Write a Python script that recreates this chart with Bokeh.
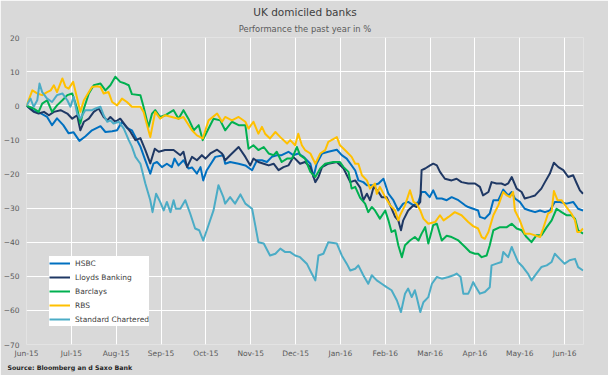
from bokeh.plotting import figure
from bokeh.models import Range1d, FixedTicker, Legend, LegendItem, Title
from bokeh.embed import file_html
from bokeh.resources import INLINE

# ---------------- data (x in months since Jun-15, y in % performance) ----------------
month_labels = ["Jun-15", "Jul-15", "Aug-15", "Sep-15", "Oct-15", "Nov-15", "Dec-15",
                "Jan-16", "Feb-16", "Mar-16", "Apr-16", "May-16", "Jun-16"]
y_ticks = [-70, -60, -50, -40, -30, -20, -10, 0, 10, 20]

hsbc_month = [
    0.00, 0.16, 0.31, 0.46, 0.57, 0.68, 0.82, 0.94, 1.05, 1.18,
    1.31, 1.46, 1.65, 1.76, 1.91, 2.02, 2.13, 2.24, 2.35, 2.54,
    2.65, 2.76, 2.83, 2.91, 3.02, 3.13, 3.24, 3.30, 3.39, 3.50,
    3.61, 3.69, 3.80, 3.88, 3.94, 4.02, 4.21, 4.39, 4.43, 4.54,
    4.73, 4.88, 5.03, 5.14, 5.25, 5.36, 5.47, 5.58, 5.69, 5.84,
    5.95, 6.06, 6.18, 6.33, 6.40, 6.47, 6.59, 6.73, 6.92, 7.03,
    7.14, 7.33, 7.40, 7.51, 7.59, 7.74, 7.85, 7.96, 8.07, 8.18,
    8.29, 8.40, 8.51, 8.63, 8.74, 8.81, 8.89, 8.99, 9.07, 9.15,
    9.26, 9.37, 9.48, 9.63, 9.78, 9.85, 9.96, 10.07, 10.11, 10.22,
    10.33, 10.41, 10.52, 10.63, 10.74, 10.82, 10.89, 11.00, 11.11, 11.22,
    11.34, 11.45, 11.56, 11.67, 11.78, 11.89, 12.04, 12.19, 12.30, 12.41,
]
hsbc_value = [
    0.0, -1.5, -2.2, -3.3, -5.7, -3.7, -5.7, -8.1, -7.8, -10.3,
    -9.0, -7.2, -6.0, -7.7, -7.5, -7.2, -4.7, -6.5, -7.2, -12.0,
    -16.0, -19.9, -17.0, -16.5, -18.0, -17.0, -18.0, -15.5, -17.5, -16.0,
    -18.4, -18.1, -19.9, -18.0, -21.9, -18.9, -15.0, -14.5, -17.0, -16.5,
    -17.0, -17.5, -18.9, -16.0, -16.0, -16.5, -15.0, -14.5, -14.5, -13.5,
    -14.5, -14.0, -15.0, -17.0, -20.9, -17.0, -14.0, -13.5, -12.9, -14.5,
    -15.5, -19.0, -21.9, -22.4, -23.3, -23.3, -22.8, -21.4, -25.8, -27.7,
    -30.7, -28.7, -28.2, -29.2, -28.2, -25.3, -25.3, -26.8, -24.8, -27.2,
    -27.2, -27.7, -26.8, -27.7, -29.2, -29.7, -30.2, -30.7, -32.6, -33.1,
    -31.6, -27.7, -27.7, -24.6, -26.3, -25.3, -27.2, -28.2, -30.2, -30.7,
    -31.2, -30.7, -31.2, -30.7, -28.2, -28.2, -28.7, -28.2, -30.2, -30.7,
]

lloyds_month = [
    0.00, 0.09, 0.16, 0.27, 0.39, 0.50, 0.61, 0.76, 0.91, 1.02,
    1.13, 1.20, 1.28, 1.39, 1.50, 1.61, 1.72, 1.80, 1.87, 1.98,
    2.09, 2.20, 2.32, 2.43, 2.54, 2.65, 2.76, 2.86, 2.95, 3.09,
    3.28, 3.43, 3.50, 3.58, 3.69, 3.80, 3.91, 3.99, 4.10, 4.25,
    4.36, 4.43, 4.54, 4.73, 4.88, 4.99, 5.06, 5.17, 5.29, 5.40,
    5.51, 5.62, 5.73, 5.84, 5.95, 6.10, 6.21, 6.33, 6.44, 6.51,
    6.59, 6.73, 6.92, 7.07, 7.22, 7.33, 7.44, 7.51, 7.59, 7.66,
    7.74, 7.85, 7.92, 8.03, 8.11, 8.22, 8.29, 8.35, 8.40, 8.51,
    8.63, 8.70, 8.78, 8.81, 8.89, 9.00, 9.07, 9.15, 9.22, 9.33,
    9.48, 9.59, 9.70, 9.85, 10.00, 10.11, 10.18, 10.30, 10.37, 10.48,
    10.59, 10.67, 10.74, 10.82, 10.93, 11.04, 11.11, 11.22, 11.34, 11.48,
    11.56, 11.67, 11.76, 11.86, 11.97, 12.08, 12.19, 12.27, 12.34, 12.41,
]
lloyds_value = [
    0.0, -1.0, -1.8, -2.3, -1.8, -2.8, -1.8, -1.3, -2.3, -3.8,
    -2.8, -7.2, -4.7, -3.8, -1.8, -0.8, -3.3, -4.3, -3.3, -4.7,
    -3.8, -5.7, -7.7, -10.1, -9.5, -13.0, -16.9, -12.6, -13.5, -13.0,
    -13.0, -14.5, -13.5, -18.0, -15.0, -16.0, -14.5, -15.5, -14.0, -12.9,
    -14.0, -16.0, -14.5, -12.1, -15.0, -17.5, -15.5, -16.5, -17.0, -17.5,
    -17.0, -18.9, -18.0, -17.5, -15.0, -17.0, -16.5, -18.0, -22.4, -20.9,
    -18.0, -17.0, -16.5, -18.4, -22.4, -21.9, -24.0, -27.7, -25.8, -27.7,
    -23.8, -25.3, -26.8, -26.8, -29.2, -32.6, -33.6, -36.5, -33.6, -30.7,
    -29.2, -29.7, -28.2, -18.9, -18.4, -17.5, -17.0, -17.5, -19.4, -21.4,
    -21.9, -21.4, -22.4, -22.8, -22.8, -23.8, -26.3, -25.3, -22.4, -22.8,
    -22.8, -23.3, -22.8, -20.9, -24.3, -25.3, -27.2, -26.8, -26.3, -24.3,
    -22.4, -19.9, -16.7, -18.0, -18.9, -20.9, -20.4, -22.8, -24.8, -25.8,
]

barclays_month = [
    0.00, 0.16, 0.27, 0.35, 0.46, 0.57, 0.68, 0.80, 0.91, 1.02,
    1.13, 1.20, 1.28, 1.39, 1.50, 1.65, 1.76, 1.87, 1.98, 2.09,
    2.20, 2.28, 2.35, 2.54, 2.61, 2.72, 2.80, 2.87, 2.98, 3.09,
    3.28, 3.39, 3.50, 3.61, 3.73, 3.84, 3.93, 4.02, 4.17, 4.32,
    4.43, 4.58, 4.73, 4.88, 4.95, 5.06, 5.17, 5.29, 5.40, 5.51,
    5.58, 5.69, 5.81, 5.92, 6.03, 6.10, 6.21, 6.33, 6.44, 6.55,
    6.66, 6.84, 6.99, 7.07, 7.18, 7.25, 7.33, 7.44, 7.55, 7.62,
    7.70, 7.77, 7.88, 8.00, 8.07, 8.14, 8.22, 8.29, 8.37, 8.44,
    8.55, 8.66, 8.74, 8.81, 8.89, 8.96, 9.07, 9.15, 9.26, 9.37,
    9.48, 9.63, 9.78, 9.89, 10.00, 10.07, 10.15, 10.26, 10.33, 10.41,
    10.56, 10.71, 10.82, 10.93, 11.04, 11.15, 11.26, 11.37, 11.48, 11.60,
    11.71, 11.82, 11.93, 12.04, 12.15, 12.23, 12.30, 12.41,
]
barclays_value = [
    0.0, -0.8, -1.8, 0.6, 1.6, -1.8, 0.1, 1.6, 3.1, 3.6,
    -0.8, -5.2, -0.8, 3.6, 6.0, 6.5, 4.5, 6.0, 8.5, 7.0,
    6.5, 6.0, 3.4, 3.1, -0.3, -6.2, -2.3, -1.3, -3.3, -2.8,
    -1.3, -3.8, -1.3, -3.8, -7.2, -5.7, -10.1, -7.7, -3.8, -4.3,
    -7.2, -4.7, -5.7, -5.7, -12.6, -11.6, -13.0, -12.1, -14.0, -14.5,
    -13.5, -16.5, -15.5, -15.5, -12.1, -14.5, -15.5, -19.4, -20.9, -18.4,
    -17.0, -16.5, -16.5, -18.0, -19.4, -24.3, -23.8, -27.0, -28.7, -31.2,
    -29.7, -30.7, -33.1, -30.7, -33.6, -37.0, -36.5, -40.9, -44.4, -40.9,
    -39.5, -38.5, -39.5, -37.5, -35.6, -40.4, -35.0, -34.6, -39.5, -38.1,
    -38.5, -39.5, -41.4, -42.9, -43.4, -43.4, -44.4, -43.9, -40.9, -36.5,
    -35.6, -35.6, -34.6, -36.0, -36.5, -38.5, -40.0, -38.0, -38.0, -35.6,
    -33.6, -30.2, -31.2, -32.1, -32.1, -33.1, -36.5, -37.5,
]

rbs_month = [
    0.00, 0.13, 0.24, 0.35, 0.46, 0.54, 0.61, 0.68, 0.80, 0.87,
    0.94, 1.04, 1.13, 1.20, 1.28, 1.39, 1.46, 1.57, 1.65, 1.72,
    1.83, 1.91, 2.02, 2.13, 2.24, 2.35, 2.43, 2.54, 2.61, 2.65,
    2.76, 2.87, 2.98, 3.09, 3.24, 3.39, 3.50, 3.69, 3.80, 3.93,
    4.06, 4.25, 4.36, 4.43, 4.58, 4.73, 4.88, 4.95, 5.06, 5.17,
    5.25, 5.32, 5.43, 5.55, 5.66, 5.81, 5.88, 5.99, 6.06, 6.14,
    6.21, 6.33, 6.44, 6.55, 6.66, 6.73, 6.92, 6.99, 7.10, 7.25,
    7.33, 7.40, 7.48, 7.59, 7.66, 7.77, 7.81, 7.88, 8.00, 8.11,
    8.22, 8.29, 8.33, 8.44, 8.55, 8.63, 8.70, 8.78, 8.85, 8.96,
    9.11, 9.22, 9.30, 9.41, 9.55, 9.70, 9.85, 9.96, 10.07, 10.15,
    10.22, 10.30, 10.41, 10.52, 10.63, 10.71, 10.78, 10.85, 10.89, 11.00,
    11.11, 11.22, 11.34, 11.45, 11.52, 11.63, 11.71, 11.76, 11.84, 11.93,
    12.04, 12.15, 12.23, 12.28, 12.34, 12.41,
]
rbs_value = [
    0.0, 4.5, 3.6, 3.1, 4.0, 4.5, 6.0, 4.0, 8.0, 5.5,
    5.0, 7.0, 2.1, -1.8, 1.6, 4.0, 5.5, 5.7, 5.5, 3.6,
    4.0, 1.1, 0.1, 2.1, 1.1, -0.3, -0.3, -0.3, -1.8, -3.8,
    -9.2, -1.8, -3.8, -2.8, -3.3, -3.8, -3.3, -7.2, -8.7, -9.6,
    -4.3, -2.3, -4.7, -3.3, -4.3, -3.3, -4.7, -6.7, -4.7, -8.2,
    -6.2, -8.2, -9.6, -7.7, -9.2, -11.1, -10.1, -11.6, -8.2, -11.6,
    -13.0, -14.0, -17.0, -14.0, -13.0, -10.6, -9.2, -11.6, -13.0, -15.0,
    -17.0, -17.0, -20.4, -21.9, -24.3, -22.8, -25.8, -23.8, -26.8, -29.2,
    -30.7, -33.6, -32.1, -29.2, -24.8, -28.2, -28.7, -30.7, -33.1, -34.6,
    -34.1, -32.1, -33.6, -32.6, -31.2, -32.1, -34.1, -35.3, -36.0, -38.5,
    -39.0, -37.0, -32.1, -29.2, -25.3, -26.3, -26.8, -25.3, -30.7, -33.6,
    -37.5, -37.5, -38.0, -38.5, -36.0, -31.6, -31.0, -25.0, -27.7, -27.7,
    -29.7, -31.6, -33.6, -37.0, -37.0, -36.0,
]

stanchart_month = [
    0.00, 0.09, 0.16, 0.24, 0.29, 0.35, 0.46, 0.57, 0.68, 0.80,
    0.91, 0.98, 1.05, 1.13, 1.20, 1.31, 1.46, 1.54, 1.65, 1.72,
    1.80, 1.87, 1.94, 2.06, 2.17, 2.28, 2.35, 2.43, 2.54, 2.65,
    2.76, 2.81, 2.89, 2.98, 3.06, 3.13, 3.21, 3.28, 3.33, 3.43,
    3.54, 3.65, 3.76, 3.85, 3.94, 4.02, 4.17, 4.28, 4.39, 4.43,
    4.54, 4.65, 4.77, 4.88, 5.03, 5.10, 5.17, 5.29, 5.43, 5.55,
    5.66, 5.77, 5.88, 5.99, 6.10, 6.25, 6.36, 6.44, 6.51, 6.62,
    6.73, 6.92, 7.03, 7.14, 7.22, 7.33, 7.40, 7.51, 7.62, 7.70,
    7.81, 7.92, 8.03, 8.14, 8.26, 8.35, 8.44, 8.51, 8.59, 8.66,
    8.70, 8.78, 8.85, 8.96, 9.04, 9.15, 9.26, 9.41, 9.52, 9.59,
    9.68, 9.74, 9.85, 9.89, 9.96, 10.00, 10.11, 10.22, 10.33, 10.37,
    10.48, 10.59, 10.63, 10.74, 10.82, 10.85, 10.96, 11.07, 11.18, 11.26,
    11.37, 11.48, 11.60, 11.71, 11.78, 11.89, 12.00, 12.11, 12.23, 12.30,
    12.41,
]
stanchart_value = [
    0.0, 2.1, -0.3, 1.6, 6.5, 4.0, 2.1, 1.1, 3.1, 3.6,
    1.6, -0.3, 2.6, -2.3, -3.8, -1.3, -1.3, -0.8, -0.3, -2.8,
    -4.7, -4.3, -5.2, -4.7, -6.7, -10.1, -12.0, -15.0, -17.0, -22.8,
    -27.7, -31.2, -25.8, -28.2, -30.7, -28.2, -31.2, -27.7, -30.2, -30.2,
    -27.7, -31.6, -36.0, -36.5, -39.5, -36.5, -30.7, -23.3, -26.8, -28.7,
    -26.8, -28.7, -26.0, -28.7, -30.2, -35.0, -40.0, -40.4, -43.9, -43.4,
    -41.9, -42.9, -42.9, -43.9, -44.4, -46.3, -49.2, -51.2, -43.9, -43.4,
    -40.0, -40.4, -43.9, -46.3, -48.3, -47.8, -46.8, -49.7, -52.2, -49.7,
    -51.2, -52.2, -53.2, -54.1, -57.1, -60.5, -55.1, -53.6, -56.1, -54.1,
    -56.1, -60.5, -57.6, -56.1, -52.2, -50.2, -50.7, -50.2, -49.7, -49.2,
    -50.2, -55.1, -55.1, -54.0, -51.7, -52.7, -55.1, -54.6, -53.2, -46.8,
    -46.3, -45.8, -42.9, -44.4, -41.4, -42.4, -45.8, -47.3, -49.2, -51.2,
    -49.2, -47.3, -46.8, -45.8, -43.4, -44.9, -46.3, -45.3, -44.9, -47.3,
    -48.3,
]

series = [
    ("HSBC", hsbc_month, hsbc_value, "#0070C0"),
    ("Lloyds Banking", lloyds_month, lloyds_value, "#1F3864"),
    ("Barclays", barclays_month, barclays_value, "#00B050"),
    ("RBS", rbs_month, rbs_value, "#FFC000"),
    ("Standard Chartered", stanchart_month, stanchart_value, "#4BACC6"),
]

# ---------------- figure ----------------
BG = "#D9D9D9"
FONT = "DejaVu Sans"

p = figure(width=608, height=375, output_backend="svg", toolbar_location=None,
           title=None,
           x_range=Range1d(0, 12.42), y_range=Range1d(-70, 20),
           min_border_left=26, min_border_right=25,
           min_border_top=37, min_border_bottom=31,
           background_fill_color=BG, border_fill_color=BG,
           outline_line_color=None)

p.add_layout(Title(text="Performance the past year in %", align="center",
                   text_font=FONT, text_font_size="8.4px", text_font_style="normal",
                   text_color="#595959", standoff=8), "above")
p.add_layout(Title(text="UK domiciled banks", align="center",
                   text_font=FONT, text_font_size="10.5px", text_font_style="normal",
                   text_color="#404040", standoff=-1), "above")

p.add_layout(Title(text="Source: Bloomberg an d Saxo Bank", align="left", offset=-19,
                   text_font=FONT, text_font_size="6.3px", text_font_style="bold",
                   text_color="#262626", standoff=3), "below")

for ax in (p.xaxis[0], p.yaxis[0]):
    ax.axis_line_color = None
    ax.major_tick_line_color = None
    ax.minor_tick_line_color = None
    ax.major_tick_out = 0
    ax.major_tick_in = 0
    ax.minor_tick_out = 0
    ax.minor_tick_in = 0
    ax.major_label_text_font = FONT
    ax.major_label_text_font_size = "7.5px"
    ax.major_label_text_color = "#595959"
p.xaxis.major_label_standoff = 4
p.yaxis.major_label_standoff = 7

p.xaxis.ticker = FixedTicker(ticks=list(range(len(month_labels))))
p.xaxis.major_label_overrides = {i: lab for i, lab in enumerate(month_labels)}
p.yaxis.ticker = FixedTicker(ticks=y_ticks)

p.xgrid.grid_line_color = "white"
p.ygrid.grid_line_color = "white"
p.xgrid.grid_line_width = 1
p.ygrid.grid_line_width = 1

items = []
for name, xs, ys, col in series:
    n = min(len(xs), len(ys))
    r = p.line(xs[:n], ys[:n], line_color=col, line_width=2, line_join="round")
    items.append(LegendItem(label=name, renderers=[r]))

legend = Legend(items=items, location=(23, 18), orientation="vertical",
                background_fill_color="white", background_fill_alpha=1.0,
                border_line_color=None,
                label_text_font=FONT, label_text_font_size="7.5px",
                label_text_color="#404040",
                glyph_width=21, glyph_height=14, label_height=14,
                spacing=0, padding=3, margin=0, label_standoff=5)
p.add_layout(legend)

open("out.html", "w").write(file_html(p, INLINE))
